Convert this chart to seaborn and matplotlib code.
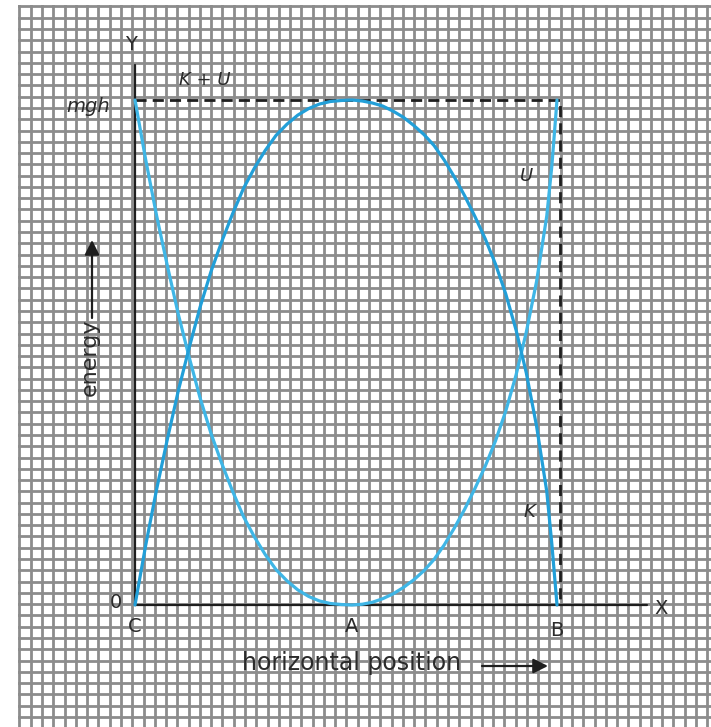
import numpy as np
import pandas as pd
import matplotlib
matplotlib.use("Agg")
import matplotlib.pyplot as plt
import seaborn as sns

# ---------------- data ----------------
# fraction of the way from C to A (left half) and from A to B (right half)
frac_left = [0.0, 0.05, 0.10, 0.15, 0.20, 0.25, 0.30, 0.35, 0.40, 0.45, 0.50,
             0.55, 0.60, 0.65, 0.70, 0.75, 0.80, 0.85, 0.90, 0.95, 1.0]
U_left = [1.0, 0.88, 0.77, 0.67, 0.575, 0.49, 0.41, 0.34, 0.28, 0.225, 0.175,
          0.135, 0.10, 0.07, 0.048, 0.03, 0.017, 0.008, 0.003, 0.001, 0.0]
K_left = [0.0, 0.12, 0.23, 0.33, 0.425, 0.51, 0.59, 0.66, 0.72, 0.775, 0.825,
          0.865, 0.90, 0.93, 0.952, 0.97, 0.983, 0.992, 0.997, 0.999, 1.0]

frac_right = [0.05, 0.10, 0.15, 0.20, 0.25, 0.30, 0.35, 0.40, 0.45, 0.50,
              0.55, 0.60, 0.65, 0.70, 0.75, 0.80, 0.85, 0.90, 0.95, 0.975, 1.0]
U_right = [0.0015, 0.0055, 0.0125, 0.022, 0.0345, 0.0495, 0.0675, 0.09, 0.119,
           0.153, 0.19, 0.231, 0.275, 0.325, 0.384, 0.455, 0.54, 0.64, 0.77,
           0.87, 1.0]
K_right = [0.998, 0.994, 0.988, 0.978, 0.966, 0.95, 0.932, 0.91, 0.881, 0.847,
           0.81, 0.769, 0.725, 0.675, 0.616, 0.545, 0.46, 0.355, 0.225, 0.12, 0.0]

point_labels = ["C", "A", "B"]
A_POS = 217 / 422          # A's place on the C..B span
point_pos = [0.0, A_POS, 1.0]
total_energy = 1.0         # mgh

# ---------------- layout helpers (pixel -> data) ----------------
W, H = 711, 727
C_PX, B_PX, ZERO_PY, MGH_PY = 135, 557, 605, 100
SX = B_PX - C_PX
SY = ZERO_PY - MGH_PY
def X(px):
    return (px - C_PX) / SX
def Y(py):
    return (ZERO_PY - py) / SY

sns.set_theme(style="white")
plt.rcParams["font.family"] = ["DejaVu Sans"]

fig = plt.figure(figsize=(W / 100, H / 100), dpi=100)

# graph-paper background
GX0, GY0, STEP = 18, 5, 11.3
bg = fig.add_axes([GX0 / W, 0, (W - GX0) / W, (H - GY0) / H])
bg.set_xlim(-1.5, W - GX0)
bg.set_ylim(H - GY0, -1.5)
bg.set_xticks(np.arange(0, W - GX0, STEP))
bg.set_yticks(np.arange(0, H - GY0, STEP))
bg.grid(True, color="#8c8c8c", lw=2.0)
bg.tick_params(length=0, labelbottom=False, labelleft=False)
for s in bg.spines.values():
    s.set_visible(False)
bg.set_facecolor("white")

# main chart
ax = fig.add_axes([0, 0, 1, 1])
ax.patch.set_alpha(0)
ax.set_xlim(X(0), X(W))
ax.set_ylim(Y(H), Y(0))
ax.axis("off")

xl = [A_POS * f for f in frac_left]
xr = [A_POS + (1 - A_POS) * f for f in frac_right]
df = pd.DataFrame({
    "x": xl + xr + xl + xr,
    "energy": U_left + U_right + K_left + K_right,
    "curve": ["U"] * (len(xl) + len(xr)) + ["K"] * (len(xl) + len(xr)),
})
sns.lineplot(data=df, x="x", y="energy", hue="curve",
             palette={"U": "#3fb6e6", "K": "#229fd8"},
             estimator=None, legend=False, lw=2.3, ax=ax, zorder=4)

ink = "#1e1e1e"
# axes lines
ax.plot([0, 0], [0, Y(65)], color=ink, lw=1.6, zorder=3)
ax.plot([0, X(647)], [0, 0], color=ink, lw=1.6, zorder=3)
# K + U dashed line
DX = X(560)
ax.plot([0, DX, DX], [total_energy, total_energy, 0], color=ink, lw=2.0,
        ls=(0, (4, 2.2)), zorder=3)

txt = "#2b2b2b"
ax.text(X(131), Y(45), "Y", ha="center", va="center", fontsize=14, color=txt)
ax.text(X(661), Y(608), "X", ha="center", va="center", fontsize=14, color=txt)
ax.text(X(116), Y(603), "0", ha="center", va="center", fontsize=14, color=txt)
for lab, p, py in zip(point_labels, point_pos, [626, 626, 630]):
    ax.text(p, Y(py), lab, ha="center", va="center", fontsize=14, color=txt)
ax.text(X(88), Y(107), "mgh", ha="center", va="center", fontsize=14,
        style="italic", color=txt)
ax.text(X(205), Y(80), "K + U", ha="center", va="center", fontsize=13,
        style="italic", color=txt)
ax.text(X(527), Y(176), "U", ha="center", va="center", fontsize=13,
        style="italic", color=txt)
ax.text(X(529), Y(512), "K", ha="center", va="center", fontsize=13,
        style="italic", color=txt)
ax.text(X(90), Y(357), "energy", ha="center", va="center", fontsize=16,
        rotation=90, color=txt)
ax.text(X(352), Y(663), "horizontal position", ha="center", va="center",
        fontsize=17, color=txt)

arrow = dict(arrowstyle="-|>", color=ink, lw=1.6, mutation_scale=22,
             shrinkA=0, shrinkB=0)
ax.annotate("", xy=(X(92), Y(240)), xytext=(X(92), Y(318)), arrowprops=arrow)
ax.annotate("", xy=(X(548), Y(666)), xytext=(X(482), Y(666)), arrowprops=arrow)

fig.savefig("out.png", dpi=100)
